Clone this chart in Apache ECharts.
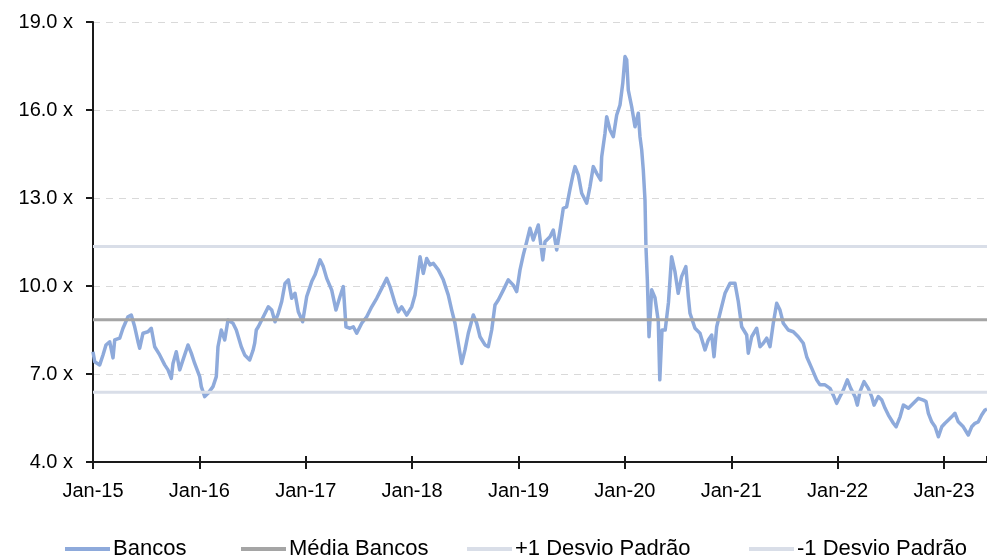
<!DOCTYPE html>
<html>
<head>
<meta charset="utf-8">
<script src="https://cdn.jsdelivr.net/npm/echarts@6/dist/echarts.min.js"></script>
<style>
html,body{margin:0;padding:0;background:#fff;}
#chart{width:987px;height:559px;}
</style>
</head>
<body>
<div id="chart"></div>
<script>
// Dates as decimal years (2015.0 = Jan-15)
var dates = [
2015.000,2015.016,2015.063,2015.094,2015.122,2015.157,2015.188,2015.204,2015.251,2015.282,
2015.329,2015.360,2015.392,2015.423,2015.439,2015.470,2015.517,2015.548,2015.580,2015.627,
2015.674,2015.705,2015.736,2015.752,2015.783,2015.815,2015.846,2015.893,2015.924,2015.956,
2016.003,2016.018,2016.050,2016.081,2016.128,2016.159,2016.175,2016.206,2016.238,2016.269,
2016.316,2016.347,2016.394,2016.426,2016.473,2016.490,2016.504,2016.520,2016.535,2016.554,
2016.601,2016.648,2016.680,2016.711,2016.742,2016.774,2016.805,2016.836,2016.868,2016.899,
2016.930,2016.971,2017.009,2017.056,2017.087,2017.134,2017.165,2017.197,2017.244,2017.284,
2017.322,2017.353,2017.378,2017.416,2017.447,2017.479,2017.526,2017.573,2017.620,2017.667,
2017.714,2017.761,2017.792,2017.839,2017.870,2017.902,2017.949,2017.996,2018.027,2018.058,
2018.074,2018.105,2018.137,2018.168,2018.199,2018.246,2018.293,2018.340,2018.372,2018.403,
2018.434,2018.466,2018.497,2018.528,2018.575,2018.607,2018.638,2018.685,2018.716,2018.748,
2018.779,2018.810,2018.857,2018.904,2018.951,2018.983,2019.014,2019.045,2019.077,2019.108,
2019.139,2019.186,2019.228,2019.249,2019.296,2019.327,2019.359,2019.390,2019.421,2019.452,
2019.484,2019.515,2019.531,2019.562,2019.594,2019.641,2019.672,2019.703,2019.735,2019.773,
2019.782,2019.813,2019.829,2019.860,2019.891,2019.923,2019.954,2019.980,2020.001,2020.017,
2020.032,2020.064,2020.095,2020.126,2020.142,2020.158,2020.173,2020.189,2020.198,2020.211,
2020.227,2020.252,2020.283,2020.314,2020.328,2020.349,2020.379,2020.410,2020.439,2020.470,
2020.501,2020.533,2020.573,2020.596,2020.612,2020.659,2020.706,2020.753,2020.784,2020.816,
2020.838,2020.863,2020.894,2020.941,2020.988,2021.035,2021.066,2021.098,2021.145,2021.160,
2021.192,2021.239,2021.270,2021.301,2021.333,2021.364,2021.395,2021.427,2021.458,2021.489,
2021.536,2021.583,2021.630,2021.677,2021.709,2021.756,2021.803,2021.834,2021.881,2021.928,
2021.959,2021.991,2022.022,2022.053,2022.091,2022.123,2022.163,2022.185,2022.210,2022.248,
2022.288,2022.320,2022.342,2022.382,2022.415,2022.446,2022.477,2022.524,2022.549,2022.587,
2022.618,2022.665,2022.712,2022.759,2022.806,2022.831,2022.853,2022.884,2022.916,2022.947,
2022.979,2023.009,2023.041,2023.072,2023.103,2023.134,2023.181,2023.228,2023.260,2023.291,
2023.322,2023.354,2023.385,2023.404
];
var bancos = [
7.76,7.42,7.31,7.65,7.99,8.10,7.55,8.16,8.22,8.56,
8.95,9.01,8.61,8.10,7.88,8.39,8.44,8.56,7.93,7.65,
7.31,7.14,6.85,7.36,7.76,7.14,7.48,7.99,7.71,7.36,
6.91,6.57,6.23,6.34,6.57,6.91,7.93,8.50,8.16,8.84,
8.73,8.50,7.93,7.65,7.48,7.42,7.80,8.05,8.50,8.61,
8.95,9.29,9.18,8.78,9.07,9.47,10.09,10.21,9.58,9.75,
9.12,8.78,9.64,10.15,10.38,10.89,10.66,10.26,9.86,9.18,
9.64,9.98,8.61,8.56,8.61,8.39,8.73,8.95,9.29,9.58,
9.92,10.26,9.98,9.41,9.12,9.29,9.01,9.29,9.69,10.55,
11.00,10.43,10.94,10.72,10.77,10.55,10.21,9.69,9.18,8.73,
8.05,7.36,7.82,8.39,9.01,8.73,8.27,7.99,7.93,8.50,
9.35,9.52,9.86,10.21,10.03,9.81,10.55,11.06,11.51,11.97,
11.57,12.08,10.89,11.51,11.68,11.91,11.23,11.91,12.65,12.70,
13.30,13.84,14.07,13.79,13.16,12.82,13.39,14.07,13.84,13.61,
14.41,15.21,15.77,15.32,15.09,15.83,16.17,16.91,17.82,17.71,
16.68,16.11,15.43,15.89,15.09,14.64,13.95,12.93,11.34,10.21,
8.27,9.87,9.60,8.80,6.80,8.50,8.50,9.45,11.00,10.50,
9.75,10.32,10.66,9.64,9.07,8.56,8.39,7.82,8.16,8.33,
7.59,8.61,9.07,9.75,10.09,10.09,9.47,8.61,8.33,7.71,
8.27,8.56,7.93,8.05,8.22,7.93,8.73,9.41,9.18,8.73,
8.50,8.44,8.27,8.05,7.59,7.20,6.80,6.63,6.63,6.51,
6.28,6.00,6.23,6.45,6.80,6.51,6.23,5.94,6.40,6.74,
6.51,6.23,5.94,6.23,6.11,5.83,5.60,5.32,5.20,5.54,
5.94,5.83,6.00,6.17,6.11,6.06,5.66,5.37,5.20,4.86,
5.20,5.32,5.43,5.54,5.66,5.37,5.20,4.92,5.20,5.32,
5.37,5.60,5.77,5.80
];
var mediaBancos = 8.85;
var desvioMais = 11.35;
var desvioMenos = 6.38;
var yTicks = [4, 7, 10, 13, 16, 19];
var seriesNames = ['Bancos', 'Média Bancos', '+1 Desvio Padrão', '-1 Desvio Padrão'];

var xMin = dates[0], xMax = dates[dates.length - 1];
var bancosData = dates.map(function (d, i) { return [d, bancos[i]]; });
function flat(v) { return [[xMin, v], [xMax, v]]; }

var FONT = '"Liberation Sans Narrow", "Liberation Sans", Arial, sans-serif';
var legendLeft = [60, 236, 462, 744];
var legends = seriesNames.map(function (n, i) {
  return {
    top: 533, left: legendLeft[i],
    itemWidth: 45, itemHeight: 4, icon: 'rect',
    textStyle: {fontFamily: FONT, fontSize: 22, color: '#000', padding: [0, 0, 0, -2]},
    data: [n]
  };
});

var chart = echarts.init(document.getElementById('chart'), null, {renderer: 'canvas'});
chart.setOption({
  animation: false,
  textStyle: {fontFamily: FONT},
  grid: {left: 93, right: 0, top: 22, bottom: 97, containLabel: false},
  legend: legends,
  xAxis: [{
    type: 'value', min: xMin, max: xMax, interval: 1,
    axisLine: {show: true, onZero: false, lineStyle: {color: '#1a1a1a', width: 2}},
    axisTick: {show: true, inside: false, length: 7, lineStyle: {color: '#1a1a1a', width: 2}},
    axisLabel: {
      fontFamily: FONT, fontSize: 20, color: '#000', margin: 19, showMaxLabel: false,
      formatter: function (v) {
        if (Math.abs(v - Math.round(v)) > 1e-6) return '';
        return 'Jan-' + String(Math.round(v)).slice(2);
      }
    },
    splitLine: {show: false}
  }, {
    type: 'value', min: xMin, max: xMax, interval: 1, position: 'bottom',
    axisLine: {show: false, onZero: false},
    axisTick: {show: true, inside: true, length: 6, lineStyle: {color: '#1a1a1a', width: 2}},
    axisLabel: {show: false},
    splitLine: {show: false}
  }],
  yAxis: {
    type: 'value', min: yTicks[0], max: yTicks[yTicks.length - 1], interval: 3,
    axisLine: {show: true, lineStyle: {color: '#1a1a1a', width: 2}},
    axisTick: {show: true, length: 7, lineStyle: {color: '#1a1a1a', width: 2}},
    axisLabel: {
      fontFamily: FONT, fontSize: 20, color: '#000', margin: 20,
      formatter: function (v) { return v.toFixed(1) + ' x'; }
    },
    splitLine: {show: true, lineStyle: {color: '#d9d9d9', width: 1.2, type: [7, 6]}}
  },
  series: [{
    name: seriesNames[0], type: 'line', data: bancosData, showSymbol: false, symbol: 'none',
    lineStyle: {color: '#8eaadb', width: 3.5, join: 'round'}, itemStyle: {color: '#8eaadb'}, z: 2
  }, {
    name: seriesNames[1], type: 'line', data: flat(mediaBancos), showSymbol: false, symbol: 'none',
    lineStyle: {color: '#a5a5a5', width: 3}, itemStyle: {color: '#a5a5a5'}, z: 3
  }, {
    name: seriesNames[2], type: 'line', data: flat(desvioMais), showSymbol: false, symbol: 'none',
    lineStyle: {color: '#d9dee8', width: 3}, itemStyle: {color: '#d9dee8'}, z: 3
  }, {
    name: seriesNames[3], type: 'line', data: flat(desvioMenos), showSymbol: false, symbol: 'none',
    lineStyle: {color: '#d9dee8', width: 3}, itemStyle: {color: '#d9dee8'}, z: 3
  }]
});
</script>
</body>
</html>
